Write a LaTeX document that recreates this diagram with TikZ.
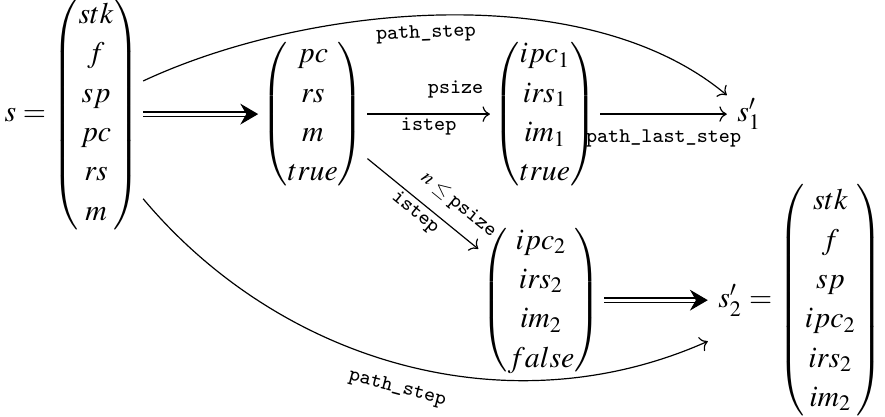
\documentclass[tikz,border=0pt]{standalone}
\usepackage{amsmath}
\usepackage{mathptmx}
\usepackage{tikz}
\usetikzlibrary{arrows.meta, positioning}
\renewcommand{\arraystretch}{1.1}
\tikzstyle{vec} = [inner xsep=1pt]
\tikzstyle{lbl} = [font=\scriptsize\ttfamily, inner sep=1pt]
\tikzstyle{arr} = [->]
\tikzstyle{dbl} = [double, double distance=1pt, -{Stealth[length=6pt, width=7pt, inset=2pt]}]

\begin{document}
\begin{tikzpicture}
		\useasboundingbox (0,0) rectangle (10.44,4.91);
		\node (s) [vec] at (0.85,3.564) {$s = \begin{pmatrix} stk\\ f\\ sp\\ pc\\ rs\\ m \end{pmatrix}$};
		\node (mid) [vec] at (3.69,3.564) {$\begin{pmatrix} pc\\ rs\\ m\\ true \end{pmatrix}$};
		\node (i1) [vec] at (6.431,3.564) {$\begin{pmatrix} ipc_1\\ irs_1\\ im_1\\ true \end{pmatrix}$};
		\node (s1) at (8.84,3.564) {$s'_1$};
		\node (i2) [vec] at (6.384,1.369) {$\begin{pmatrix} ipc_2\\ irs_2\\ im_2\\ false \end{pmatrix}$};
		\node (s2) [anchor=east] at (10.53,1.369) {$s'_2 = \begin{pmatrix} stk\\ f\\ sp\\ ipc_2\\ irs_2\\ im_2 \end{pmatrix}$};

		\draw[dbl] (s) -- (mid);
		\draw[arr] (mid) -- node[lbl, above=4pt, pos=.72] {psize} node[lbl, below] {istep} (i1);
		\draw[arr] (i1) -- node[lbl, below=4pt] {path\_last\_step} (s1);
		\draw[arr] (mid) -- node[lbl, above=3pt, pos=.7, sloped] {$n\leq{}$psize} node[lbl, below, sloped] {istep} (i2);
		\draw[dbl] (i2) -- (s2);
		\draw[arr] (s) to[out=25, in=140, looseness=.8] node[lbl, below=2pt, pos=.47, sloped] {path\_step} (s1);
		\draw[arr] (s) to[out=-50, in=204, looseness=.95] node[lbl, below=4pt, pos=.5, sloped] {path\_step} (s2);
	\end{tikzpicture}
\end{document}
